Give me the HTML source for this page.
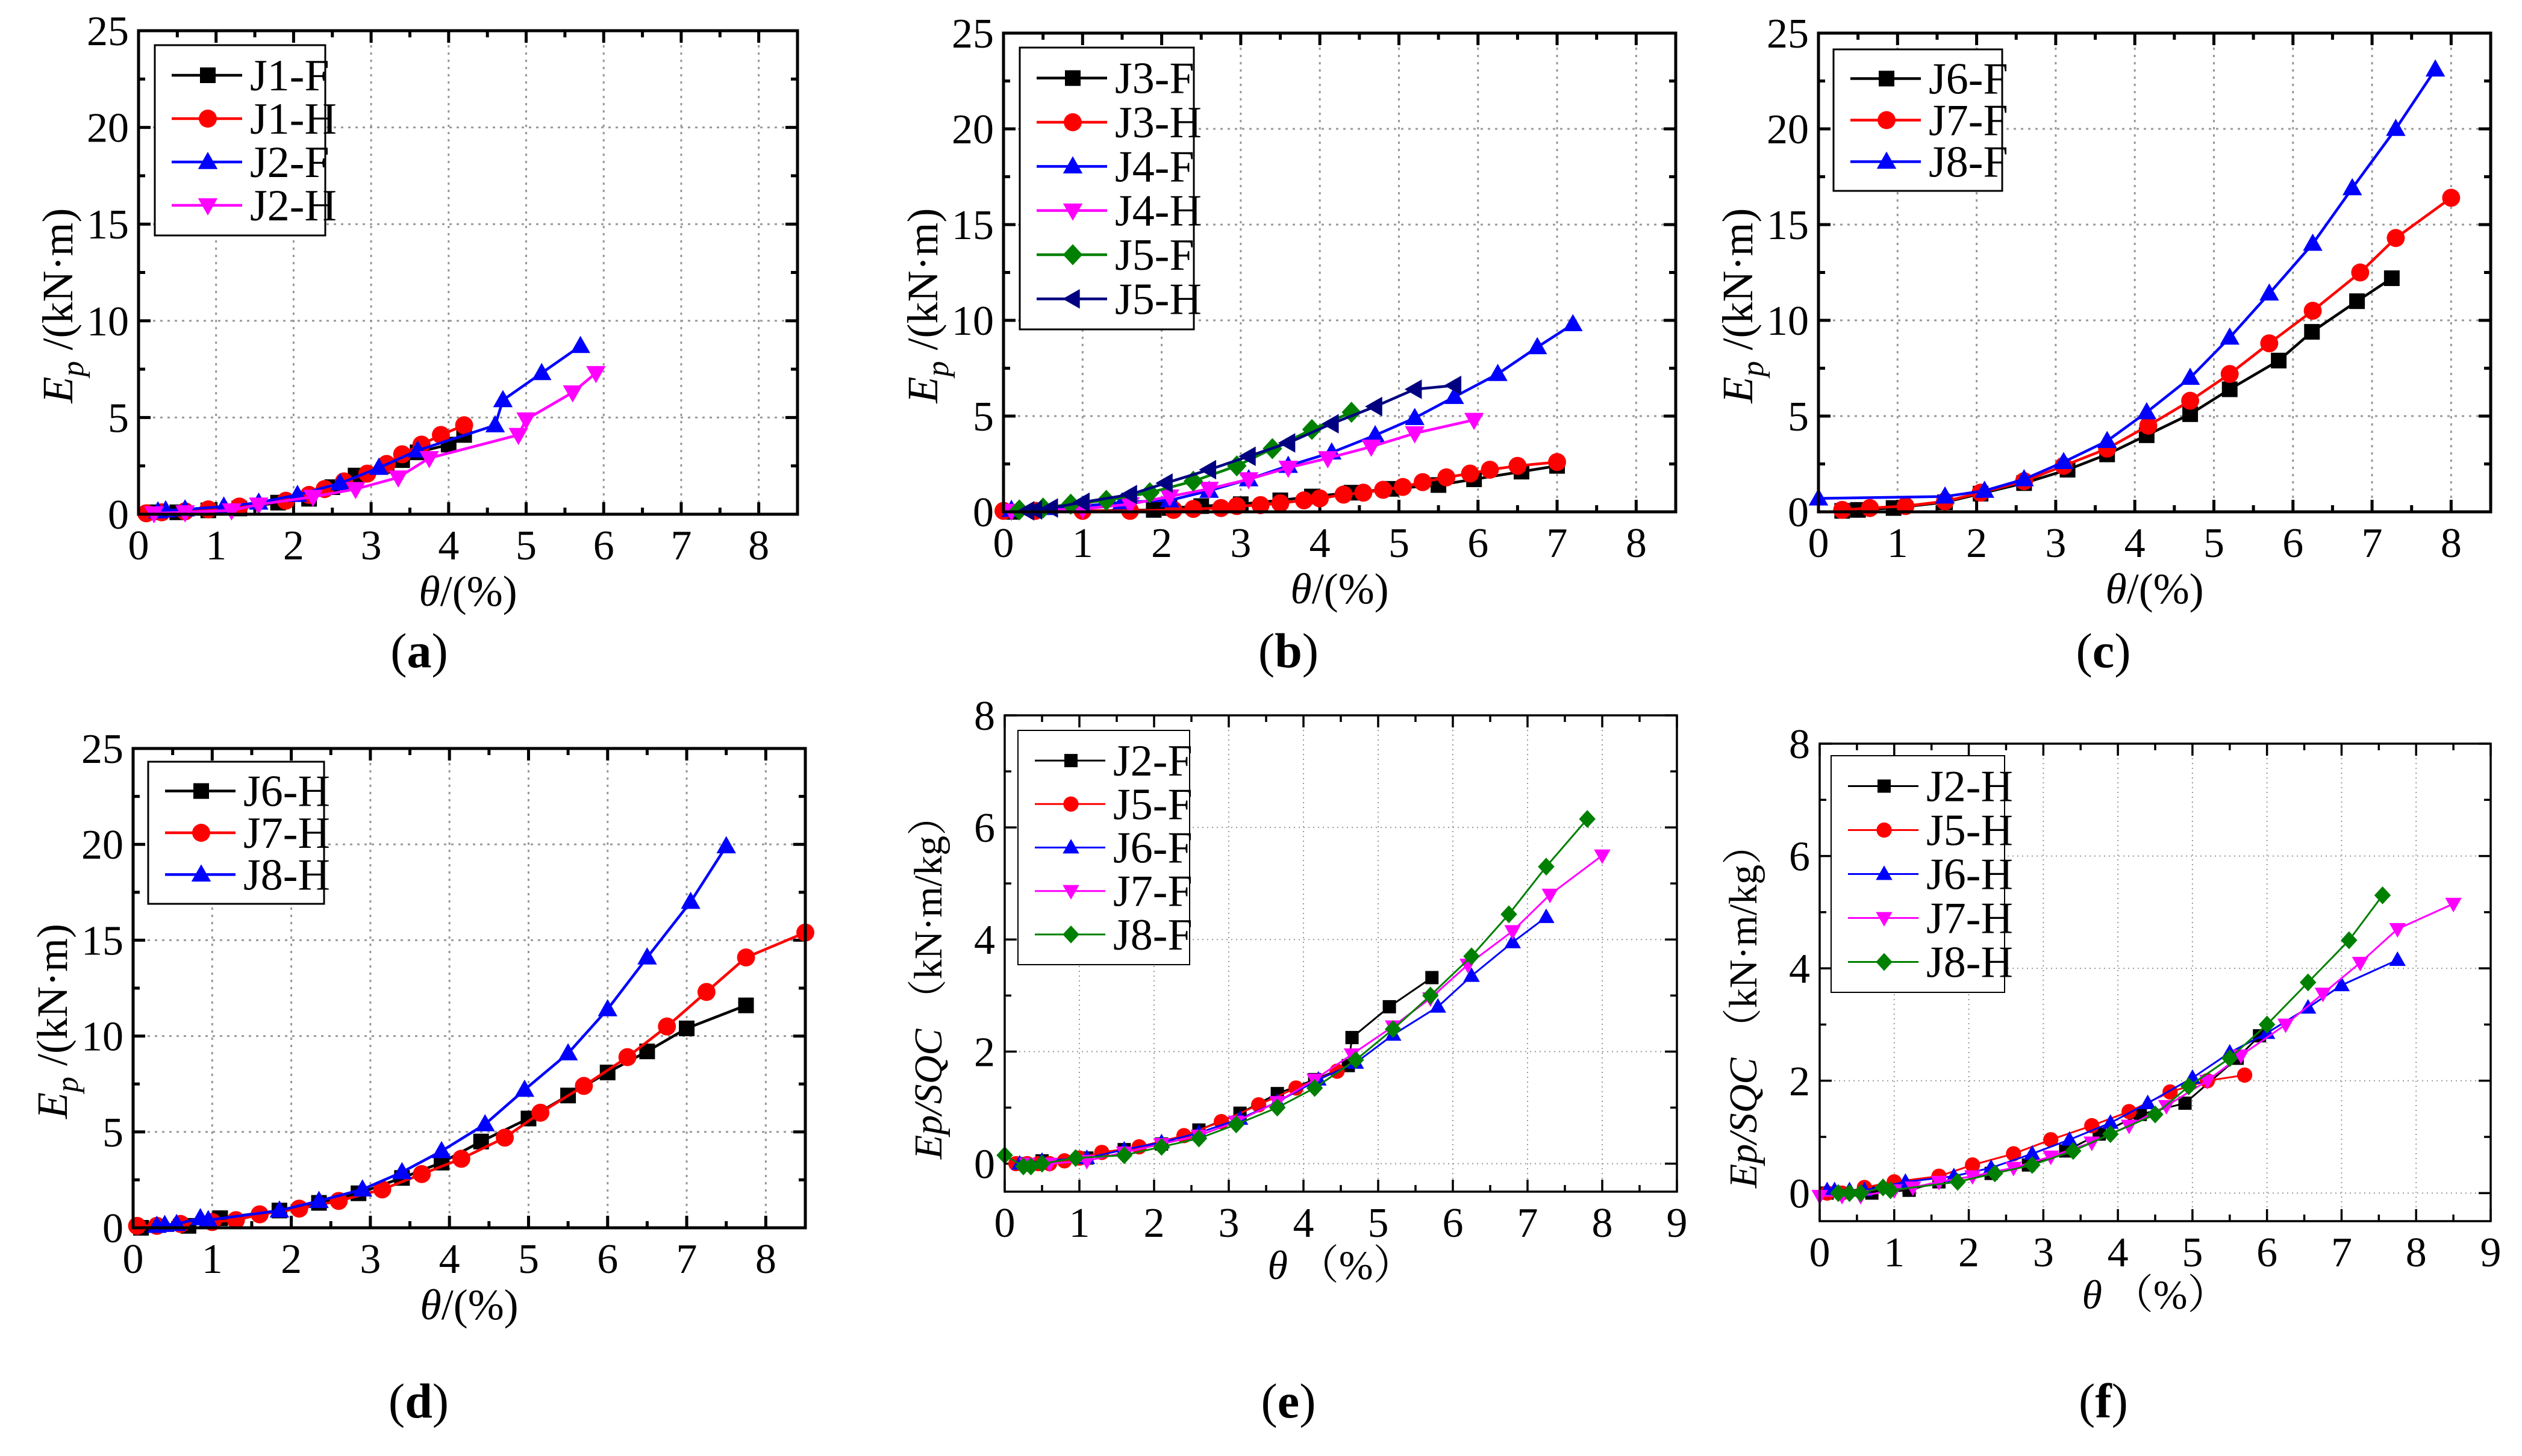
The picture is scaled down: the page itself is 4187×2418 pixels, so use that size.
<!DOCTYPE html>
<html><head><meta charset="utf-8"><style>
html,body{margin:0;padding:0;background:#fff;}
svg, svg text{font-family:"Liberation Serif","Noto Serif CJK SC",serif;}
svg{display:block;}
</style></head><body>
<svg id="fig" width="4187" height="2418" viewBox="0 0 4187 2418" xmlns="http://www.w3.org/2000/svg" font-family="'Liberation Serif','Noto Serif CJK SC',serif"></svg>
<script>
// ---------- data (theta %, value) ----------
const a_J1F_x=[0.2,0.5,0.9,1.3,1.8,2.2,2.5,2.8,3.2,3.4,3.6,4.0,4.2];
const a_J1F_y=[0.1,0.1,0.2,0.3,0.6,0.8,1.4,2.0,2.5,2.8,3.2,3.6,4.1];
const a_J1H_x=[0.1,0.3,0.6,0.9,1.3,1.9,2.2,2.4,2.65,2.95,3.2,3.4,3.65,3.9,4.2];
const a_J1H_y=[0.05,0.1,0.15,0.25,0.4,0.7,1.0,1.3,1.7,2.1,2.6,3.1,3.6,4.1,4.6];
const a_J2F_x=[0.25,0.35,0.6,1.1,1.55,2.05,2.6,3.1,3.6,4.6,4.7,5.2,5.7];
const a_J2F_y=[0.15,0.2,0.25,0.4,0.6,1.0,1.6,2.4,3.3,4.6,5.9,7.3,8.7];
const a_J2H_x=[0.2,0.6,1.2,1.55,2.25,2.8,3.35,3.75,4.9,5.0,5.6,5.9];
const a_J2H_y=[0.05,0.1,0.2,0.5,0.9,1.3,1.9,2.9,4.1,4.9,6.3,7.3];

const b_J3F_x=[0.1,1.9,2.1,2.5,3.0,3.5,3.9,4.4,4.9,5.5,5.95,6.55,7.0];
const b_J3F_y=[0,0.1,0.2,0.3,0.4,0.6,0.8,1.0,1.2,1.4,1.7,2.1,2.4];
const b_J3H_x=[0,0.4,1.0,1.6,2.15,2.4,2.75,2.95,3.25,3.5,3.8,4.0,4.3,4.55,4.8,5.05,5.3,5.6,5.9,6.15,6.5,7.0];
const b_J3H_y=[0.05,0.05,0.05,0.05,0.1,0.15,0.2,0.3,0.35,0.45,0.6,0.7,0.9,1.0,1.15,1.3,1.55,1.8,2.0,2.2,2.4,2.6];
const b_J4F_x=[0.1,0.5,1.0,1.5,2.1,2.6,3.1,3.6,4.15,4.7,5.2,5.7,6.25,6.75,7.2];
const b_J4F_y=[0.1,0.2,0.3,0.5,0.6,1.1,1.7,2.4,3.1,4.0,4.9,6.0,7.2,8.6,9.8];
const b_J4H_x=[0.1,1.0,1.6,2.1,2.6,3.1,3.6,4.1,4.65,5.2,5.95];
const b_J4H_y=[0.05,0.15,0.4,0.8,1.2,1.7,2.3,2.8,3.4,4.1,4.8];
const b_J5F_x=[0.2,0.5,0.85,1.3,1.85,2.4,2.95,3.4,3.9,4.4];
const b_J5F_y=[0.1,0.2,0.4,0.6,1.0,1.6,2.4,3.3,4.3,5.2];
const b_J5H_x=[0.3,0.4,0.6,1.0,1.6,2.05,2.6,3.1,3.6,4.15,4.7,5.2,5.7];
const b_J5H_y=[0.05,0.1,0.2,0.5,0.9,1.5,2.2,2.9,3.6,4.6,5.5,6.4,6.6];

const c_J6F_x=[0.3,0.5,0.95,1.6,2.05,2.6,3.15,3.65,4.15,4.7,5.2,5.82,6.24,6.81,7.25];
const c_J6F_y=[0.05,0.1,0.2,0.5,0.95,1.5,2.2,3.0,4.0,5.1,6.4,7.9,9.4,11.0,12.2];
const c_J7F_x=[0.3,0.65,1.1,1.6,2.05,2.6,3.1,3.65,4.17,4.7,5.2,5.7,6.25,6.85,7.3,8.0];
const c_J7F_y=[0.1,0.2,0.3,0.55,1.0,1.6,2.4,3.3,4.5,5.8,7.2,8.8,10.5,12.5,14.3,16.4];
const c_J8F_x=[0.0,1.6,2.1,2.6,3.1,3.65,4.15,4.7,5.2,5.7,6.25,6.75,7.3,7.8];
const c_J8F_y=[0.7,0.8,1.1,1.7,2.6,3.7,5.2,7.0,9.1,11.4,14.0,16.9,20.0,23.1];

const d_J6H_x=[0.1,0.7,1.1,1.85,2.35,2.85,3.4,3.9,4.4,5.0,5.5,6.0,6.5,7.0,7.75];
const d_J6H_y=[0,0.1,0.5,0.9,1.3,1.8,2.6,3.4,4.5,5.7,6.9,8.1,9.2,10.4,11.6];
const d_J7H_x=[0.05,0.3,0.6,1.0,1.3,1.6,2.1,2.6,3.15,3.65,4.15,4.7,5.15,5.7,6.25,6.75,7.25,7.75,8.5];
const d_J7H_y=[0.1,0.1,0.2,0.3,0.4,0.7,1.0,1.4,2.0,2.8,3.6,4.7,6.0,7.4,8.9,10.5,12.3,14.1,15.4];
const d_J8H_x=[0.3,0.4,0.55,0.85,0.95,1.85,2.35,2.9,3.4,3.9,4.45,4.95,5.5,6.0,6.5,7.05,7.5];
const d_J8H_y=[0.1,0.15,0.2,0.5,0.4,0.9,1.4,2.0,2.9,4.0,5.4,7.2,9.1,11.4,14.1,17.0,19.9];

const e_J2F_x=[0.2,0.5,1.1,1.6,2.1,2.6,3.15,3.65,4.15,4.6,4.65,5.15,5.72];
const e_J2F_y=[0,0.05,0.1,0.25,0.35,0.6,0.9,1.25,1.5,1.75,2.25,2.8,3.32];
const e_J5F_x=[0.15,0.3,0.45,0.6,0.8,1.0,1.3,1.8,2.4,2.9,3.4,3.9,4.45];
const e_J5F_y=[0,0,0,0,0.05,0.1,0.2,0.3,0.5,0.75,1.05,1.35,1.65];
const e_J6F_x=[0.2,0.5,1.1,1.6,2.1,2.6,3.15,3.65,4.2,4.7,5.2,5.8,6.25,6.8,7.25];
const e_J6F_y=[0,0.05,0.1,0.25,0.38,0.55,0.8,1.1,1.5,1.8,2.3,2.8,3.35,3.95,4.4];
const e_J7F_x=[0.3,0.6,1.1,1.6,2.1,2.6,3.1,3.65,4.15,4.65,5.2,5.7,6.2,6.8,7.3,8.0];
const e_J7F_y=[0,0,0.05,0.2,0.35,0.5,0.75,1.1,1.5,1.95,2.45,2.95,3.55,4.15,4.8,5.5];
const e_J8F_x=[0.0,0.25,0.35,0.5,0.95,1.6,2.1,2.6,3.1,3.65,4.15,4.7,5.2,5.7,6.25,6.75,7.25,7.8];
const e_J8F_y=[0.15,-0.05,-0.05,0,0.1,0.15,0.3,0.45,0.7,1.0,1.35,1.85,2.4,3.0,3.7,4.45,5.3,6.15];

const f_J2H_x=[0.1,0.7,1.2,1.6,2.3,2.8,3.3,3.75,4.3,4.9,5.6,5.9];
const f_J2H_y=[0,0,0.05,0.2,0.35,0.5,0.75,1.05,1.4,1.6,2.4,2.8];
const f_J5H_x=[0.1,0.3,0.6,1.0,1.6,2.05,2.6,3.1,3.65,4.15,4.7,5.2,5.7];
const f_J5H_y=[0,0,0.1,0.2,0.3,0.5,0.7,0.95,1.2,1.45,1.8,2.0,2.1];
const f_J6H_x=[0.1,0.2,0.4,0.6,1.15,1.8,2.3,2.85,3.35,3.9,4.4,5.0,5.5,6.0,6.55,7.0,7.75];
const f_J6H_y=[0.05,0.05,0.05,0.05,0.2,0.3,0.45,0.7,0.95,1.25,1.6,2.05,2.5,2.85,3.3,3.7,4.15];
const f_J7H_x=[0,0.3,0.55,1.0,1.25,1.6,2.05,2.6,3.1,3.65,4.15,4.65,5.2,5.65,6.25,6.75,7.25,7.75,8.5];
const f_J7H_y=[-0.05,-0.05,-0.05,0.05,0.1,0.2,0.3,0.45,0.65,0.9,1.2,1.55,2.0,2.45,3.0,3.55,4.1,4.7,5.15];
const f_J8H_x=[0.25,0.4,0.55,0.85,0.95,1.85,2.35,2.85,3.4,3.9,4.5,4.95,5.5,6.0,6.55,7.1,7.55];
const f_J8H_y=[0,0,0,0.1,0.05,0.2,0.35,0.5,0.75,1.05,1.4,1.9,2.4,3.0,3.75,4.5,5.3];

const xTicksA=["0","1","2","3","4","5","6","7","8"];
const yTicksA=["0","5","10","15","20","25"];
const xTicksE=["0","1","2","3","4","5","6","7","8","9"];
const yTicksE=["0","2","4","6","8"];

// ---------- layout ----------
const NS="http://www.w3.org/2000/svg";
const FF="'Liberation Serif','Noto Serif CJK SC',serif";
const svg=document.getElementById('fig');
function mk(tag,attrs,parent){const e=document.createElementNS(NS,tag);for(const k in attrs)e.setAttribute(k,attrs[k]);if(tag==='text')e.setAttribute('font-family',FF);(parent||svg).appendChild(e);return e;}
const COL={blk:"#000",red:"#ff0000",blu:"#0000ff",mag:"#ff00ff",grn:"#008000",nav:"#000080"};

const panels=[
 {id:'a',L:230,R:1324,T:51,B:854,xmax:8.5,ymin:0,ymax:25,yStep:5,xt:xTicksA,yt:yTicksA,lab:[696,1080],thick:true,
  leg:[257,75,540,391],series:[['J1-F',a_J1F_x,a_J1F_y,'blk','sq'],['J1-H',a_J1H_x,a_J1H_y,'red','ci'],['J2-F',a_J2F_x,a_J2F_y,'blu','tu'],['J2-H',a_J2H_x,a_J2H_y,'mag','td']]},
 {id:'b',L:1666,R:2782,T:55,B:850,xmax:8.5,ymin:0,ymax:25,yStep:5,xt:xTicksA,yt:yTicksA,lab:[2139,1080],thick:true,
  leg:[1693,79,1982,547],series:[['J3-F',b_J3F_x,b_J3F_y,'blk','sq'],['J3-H',b_J3H_x,b_J3H_y,'red','ci'],['J4-F',b_J4F_x,b_J4F_y,'blu','tu'],['J4-H',b_J4H_x,b_J4H_y,'mag','td'],['J5-F',b_J5F_x,b_J5F_y,'grn','di'],['J5-H',b_J5H_x,b_J5H_y,'nav','tl']]},
 {id:'c',L:3019,R:4135,T:55,B:850,xmax:8.5,ymin:0,ymax:25,yStep:5,xt:xTicksA,yt:yTicksA,lab:[3492,1080],thick:true,
  leg:[3044,82,3324,317],series:[['J6-F',c_J6F_x,c_J6F_y,'blk','sq'],['J7-F',c_J7F_x,c_J7F_y,'red','ci'],['J8-F',c_J8F_x,c_J8F_y,'blu','tu']]},
 {id:'d',L:221,R:1337,T:1243,B:2039,xmax:8.5,ymin:0,ymax:25,yStep:5,xt:xTicksA,yt:yTicksA,lab:[695,2326],thick:true,
  leg:[246,1265,538,1501],series:[['J6-H',d_J6H_x,d_J6H_y,'blk','sq'],['J7-H',d_J7H_x,d_J7H_y,'red','ci'],['J8-H',d_J8H_x,d_J8H_y,'blu','tu']]},
 {id:'e',L:1668,R:2784,T:1188,B:1979,xmax:9,ymin:-0.5,ymax:8,yStep:2,xt:xTicksE,yt:yTicksE,lab:[2139,2326],thick:false,
  leg:[1690,1213,1975,1602],series:[['J2-F',e_J2F_x,e_J2F_y,'blk','sq'],['J5-F',e_J5F_x,e_J5F_y,'red','ci'],['J6-F',e_J6F_x,e_J6F_y,'blu','tu'],['J7-F',e_J7F_x,e_J7F_y,'mag','td'],['J8-F',e_J8F_x,e_J8F_y,'grn','di']]},
 {id:'f',L:3021,R:4135,T:1235,B:2028,xmax:9,ymin:-0.5,ymax:8,yStep:2,xt:xTicksE,yt:yTicksE,lab:[3492,2326],thick:false,
  leg:[3040,1255,3328,1648],series:[['J2-H',f_J2H_x,f_J2H_y,'blk','sq'],['J5-H',f_J5H_x,f_J5H_y,'red','ci'],['J6-H',f_J6H_x,f_J6H_y,'blu','tu'],['J7-H',f_J7H_x,f_J7H_y,'mag','td'],['J8-H',f_J8H_x,f_J8H_y,'grn','di']]}
];

function marker(g,shape,x,y,s,c){
  let e;
  if(shape==='sq') e=mk('rect',{x:x-s,y:y-s,width:2*s,height:2*s,fill:c},g);
  else if(shape==='ci') e=mk('circle',{cx:x,cy:y,r:s*1.15,fill:c},g);
  else if(shape==='tu') e=mk('polygon',{points:`${x},${y-s*1.3} ${x+s*1.25},${y+s*0.9} ${x-s*1.25},${y+s*0.9}`,fill:c},g);
  else if(shape==='td') e=mk('polygon',{points:`${x},${y+s*1.3} ${x+s*1.25},${y-s*0.9} ${x-s*1.25},${y-s*0.9}`,fill:c},g);
  else if(shape==='di') e=mk('polygon',{points:`${x},${y-s*1.35} ${x+s*1.25},${y} ${x},${y+s*1.35} ${x-s*1.25},${y}`,fill:c},g);
  else if(shape==='tl') e=mk('polygon',{points:`${x-s*1.3},${y} ${x+s*0.9},${y-s*1.25} ${x+s*0.9},${y+s*1.25}`,fill:c},g);
  
  
  return e;
}

panels.forEach(p=>{
  const g=mk('g',{});
  
  
  const sx=v=>p.L+(v/p.xmax)*(p.R-p.L);
  const sy=v=>p.B-((v-p.ymin)/(p.ymax-p.ymin))*(p.B-p.T);
  const fw=p.thick?5:3.5, gw=p.thick?3:2, lw=p.thick?4.5:3, ms=p.thick?13:11;
  const gd=p.thick?'4 8':'2 6';
  const grid=mk('g',{stroke:'#999',"stroke-width":gw,"stroke-dasharray":gd},g);
  
  
  for(let i=1;i<p.xt.length;i++){const x=sx(+p.xt[i]); if(x<p.R-2) mk('line',{x1:x,y1:p.T,x2:x,y2:p.B},grid);}
  p.yt.forEach(t=>{const v=+t; if(v>p.ymin&&v<p.ymax){const y=sy(v); mk('line',{x1:p.L,y1:y,x2:p.R,y2:y},grid);}});
  const tk=mk('g',{stroke:'#000',"stroke-width":fw},g);
  
  
  for(let v=0;v<=p.xmax+1e-6;v+=0.5){const x=sx(v);const len=(Math.abs(v-Math.round(v))<1e-6)?20:11;
    mk('line',{x1:x,y1:p.B,x2:x,y2:p.B-len},tk);mk('line',{x1:x,y1:p.T,x2:x,y2:p.T+len},tk);}
  const ys=p.yStep/2;
  for(let v=Math.ceil(p.ymin/ys)*ys;v<=p.ymax+1e-6;v+=ys){const y=sy(v);const len=(Math.abs(v/p.yStep-Math.round(v/p.yStep))<1e-6)?20:11;
    mk('line',{x1:p.L,y1:y,x2:p.L+len,y2:y},tk);mk('line',{x1:p.R,y1:y,x2:p.R-len,y2:y},tk);}
  p.xt.forEach(t=>{const e=mk('text',{x:sx(+t),y:p.B+75,"font-size":70,"text-anchor":"middle"},g);e.textContent=t;
    });
  p.yt.forEach(t=>{const e=mk('text',{x:p.L-16,y:sy(+t)+24,"font-size":70,"text-anchor":"end"},g);e.textContent=t;
    });
  p.series.forEach(s=>{
    const [name,xs,yv,ck,shape]=s;const c=COL[ck];
    const sg=mk('g',{},g);
    
    
    const pts=xs.map((x,i)=>sx(x)+','+sy(yv[i])).join(' ');
    const pl=mk('polyline',{points:pts,fill:'none',stroke:c,"stroke-width":lw,"stroke-linejoin":"round"},sg);
    
    
    xs.forEach((x,i)=>marker(sg,shape,sx(x),sy(yv[i]),ms,c));
  });
  const fr=mk('rect',{x:p.L,y:p.T,width:p.R-p.L,height:p.B-p.T,fill:'none',stroke:'#000',"stroke-width":fw},g);
  
  
  const [lx1,ly1,lx2,ly2]=p.leg;
  const lg=mk('g',{},g);
  
  
  const lr=mk('rect',{x:lx1,y:ly1,width:lx2-lx1,height:ly2-ly1,fill:'#fff',stroke:'#000',"stroke-width":p.thick?3:2},lg);
  
  
  const n=p.series.length, rh=(ly2-ly1-28)/n;
  p.series.forEach((s,i)=>{
    const c=COL[s[3]];const y=ly1+14+rh*(i+0.5);
    const eg=mk('g',{},lg);
    
    
    mk('line',{x1:lx1+28,y1:y,x2:lx1+145,y2:y,stroke:c,"stroke-width":lw},eg);
    marker(eg,s[4],lx1+88,y,ms,c);
    const t=mk('text',{x:lx1+158,y:y+25,"font-size":74},eg);t.textContent=s[0];
  });
  const cx=(p.L+p.R)/2, cy=(p.T+p.B)/2;
  if(p.thick){
    const xt=mk('text',{x:cx,y:p.B+152,"font-size":72,"text-anchor":"middle"},g);
    
    xt.innerHTML='<tspan font-style="italic">θ</tspan>/(%)';
    const yt=mk('text',{x:0,y:0,"font-size":72,"text-anchor":"middle",transform:`translate(${p.L-110},${cy+55}) rotate(-90)`},g);
    
    yt.innerHTML='<tspan font-style="italic">E</tspan><tspan font-style="italic" font-size="52" dy="18">p</tspan><tspan dy="-18"> /(kN·m)</tspan>';
  } else {
    const xt=mk('text',{x:cx,y:p.B+145,"font-size":68,"text-anchor":"middle"},g);
    
    xt.innerHTML='<tspan font-style="italic">θ</tspan>  （%）';
    const yt=mk('text',{x:0,y:0,"font-size":66,"text-anchor":"middle",transform:`translate(${p.L-105},${cy+40}) rotate(-90)`},g);
    
    yt.innerHTML='<tspan font-style="italic">Ep/SQC</tspan> （kN·m/kg）';
  }
  const pl=mk('text',{x:p.lab[0],y:p.lab[1]+28,"font-size":82,"text-anchor":"middle"},g);
  
  pl.innerHTML='(<tspan font-weight="bold">'+p.id+'</tspan>)';
});
</script>
</body></html>
